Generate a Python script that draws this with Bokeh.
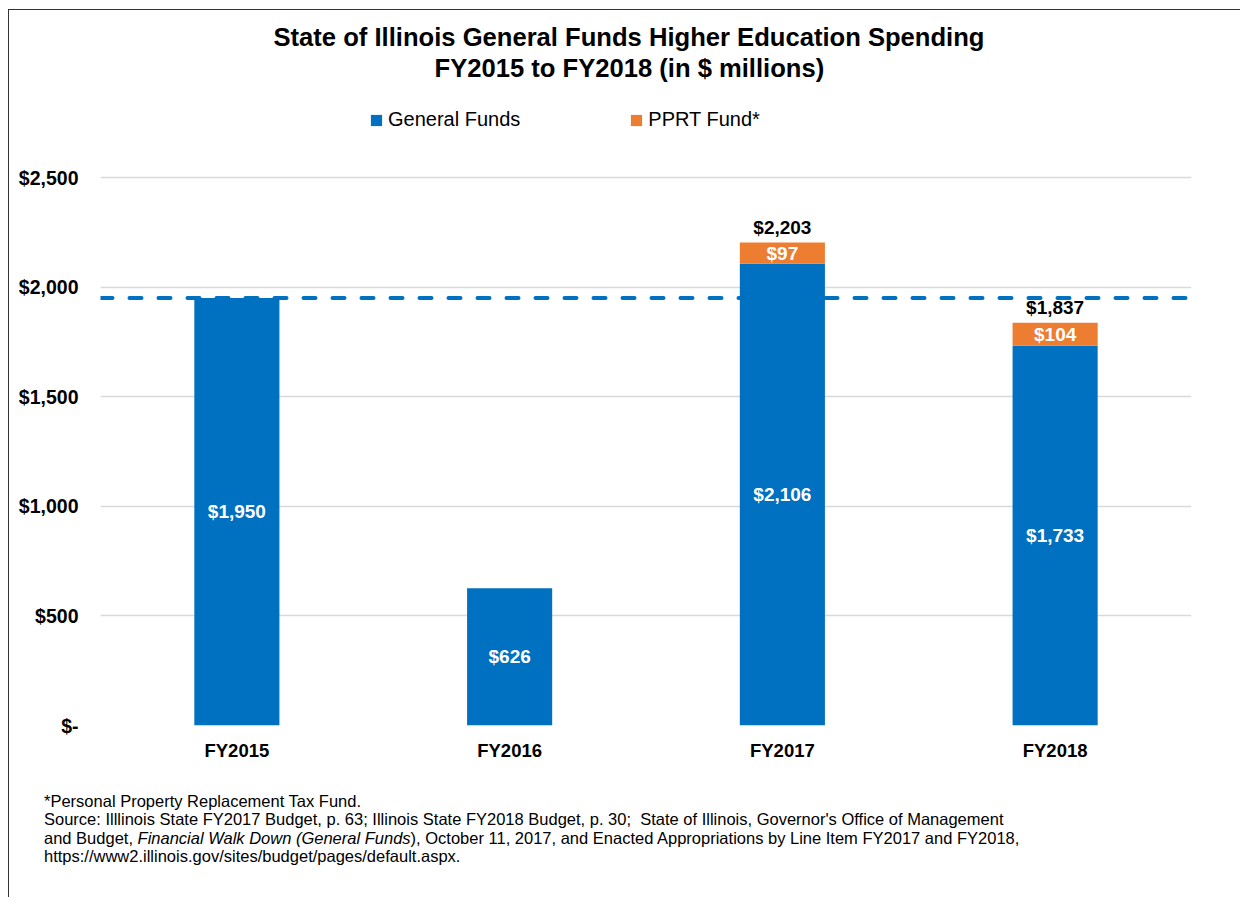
from bokeh.plotting import figure
from bokeh.models import (ColumnDataSource, FactorRange, Range1d, Span, Legend,
                          LegendItem, Title, NumeralTickFormatter, FixedTicker, Div)
from bokeh.layouts import column
from bokeh.embed import file_html
from bokeh.resources import INLINE
from bokeh.core.properties import value

# ---------------- data ----------------
years = ["FY2015", "FY2016", "FY2017", "FY2018"]
general_funds = [1950, 626, 2106, 1733]
pprt_fund = [0, 0, 97, 104]
y_ticks = [0, 500, 1000, 1500, 2000, 2500]
series_names = ["General Funds", "PPRT Fund*"]
title_line1 = "State of Illinois General Funds Higher Education Spending"
title_line2 = "FY2015 to FY2018 (in $ millions)"

BLUE = "#0070C0"
ORANGE = "#ED7D31"
FONT = "Liberation Sans"

# layout constants (pixels)
AXIS_PX = 548          # height of the 0..2500 tick span
FRAME_PX = 643         # frame height (extra room above for the legend)

def money(v):
    return "${:,.0f}".format(v)

totals = [g + q for g, q in zip(general_funds, pprt_fund)]

src = ColumnDataSource(data=dict(
    year=years,
    general=general_funds,
    pprt=pprt_fund,
))

gen_lbl = ColumnDataSource(data=dict(
    x=years,
    y=[g / 2 for g in general_funds],
    t=[money(g) for g in general_funds],
))
pp_idx = [i for i, q in enumerate(pprt_fund) if q > 0]
pp_lbl = ColumnDataSource(data=dict(
    x=[years[i] for i in pp_idx],
    y=[general_funds[i] + pprt_fund[i] / 2 for i in pp_idx],
    t=[money(pprt_fund[i]) for i in pp_idx],
))
tot_lbl = ColumnDataSource(data=dict(
    x=[years[i] for i in pp_idx],
    y=[totals[i] for i in pp_idx],
    t=[money(totals[i]) for i in pp_idx],
))

y_end = y_ticks[-1] * FRAME_PX / AXIS_PX

p = figure(
    x_range=FactorRange(*years, range_padding=0),
    y_range=Range1d(y_ticks[0], y_end),
    width=1231, height=782,
    output_backend="svg", toolbar_location=None, title=None,
    min_border_left=91, min_border_right=49,
    min_border_top=72, min_border_bottom=67,
)
p.outline_line_color = None
p.background_fill_color = "white"
p.border_fill_color = "white"

rs = p.vbar_stack(["general", "pprt"], x="year", width=0.312, source=src,
                  color=[BLUE, ORANGE], line_color=None)

p.add_layout(Span(location=general_funds[0], dimension="width",
                  line_color=BLUE, line_width=4, line_dash="12 17",
                  line_cap="round"))

common = dict(text_align="center", text_font=value(FONT),
              text_font_style="bold", text_font_size="19px")
p.text(x="x", y="y", text="t", source=gen_lbl, text_baseline="middle",
       text_color="white", **common)
p.text(x="x", y="y", text="t", source=pp_lbl, text_baseline="middle",
       text_color="white", **common)
p.text(x="x", y="y", text="t", source=tot_lbl, text_baseline="bottom",
       y_offset=-5, text_color="black", **common)

p.xgrid.grid_line_color = None
p.ygrid.grid_line_color = "#D9D9D9"
p.ygrid.grid_line_width = 1.5
p.yaxis.ticker = FixedTicker(ticks=y_ticks)
p.yaxis.formatter = NumeralTickFormatter(format="$0,0")
p.yaxis.major_label_overrides = {0: "$-"}
for ax in (p.xaxis[0], p.yaxis[0]):
    ax.axis_line_color = None
    ax.major_tick_line_color = None
    ax.minor_tick_line_color = None
    ax.major_label_text_font = FONT
    ax.major_label_text_font_style = "bold"
    ax.major_label_text_color = "black"
p.yaxis.major_label_text_font_size = "19.5px"
p.yaxis.major_label_standoff = 16
p.xaxis.major_label_text_font_size = "18.5px"
p.xaxis.major_label_standoff = 8

legend = Legend(
    items=[LegendItem(label=series_names[0], renderers=[rs[0]]),
           LegendItem(label=series_names[1], renderers=[rs[1]])],
    orientation="horizontal", location=(269, 594), margin=0, padding=0,
    spacing=109, glyph_width=14, glyph_height=14, label_standoff=5,
    label_text_font=FONT, label_text_font_size="20px",
    label_text_color="black", border_line_color=None,
    background_fill_alpha=0,
)
p.add_layout(legend, "center")

t2 = Title(text=title_line2, align="left", offset=334, standoff=2,
           text_font=FONT, text_font_style="bold", text_font_size="25.6px",
           text_color="black")
t1 = Title(text=title_line1, align="left", offset=173, standoff=0,
           text_font=FONT, text_font_style="bold", text_font_size="25.6px",
           text_color="black")
p.add_layout(t2, "above")
p.add_layout(t1, "above")

foot_html = (
    '<div style="margin-left:35px; font-family:\'Liberation Sans\'; '
    'font-size:16.5px; line-height:18.4px; color:black; white-space:nowrap;">'
    '*Personal Property Replacement Tax Fund.<br>'
    'Source: Illlinois State FY2017 Budget, p. 63; Illinois State FY2018 Budget, p. 30;&nbsp; '
    'State of Illinois, Governor\'s Office of Management<br>'
    'and Budget, <i>Financial Walk Down (General Funds</i>), October 11, 2017, and Enacted '
    'Appropriations by Line Item FY2017 and FY2018,<br>'
    'https://www2.illinois.gov/sites/budget/pages/default.aspx.'
    '</div>'
)
foot = Div(text=foot_html, width=1231, height=105, margin=0)

layout = column(p, foot, spacing=0, margin=(9, 0, 0, 8),
                styles={"border-left": "1px solid #333333",
                        "border-top": "1px solid #333333"})

open("out.html", "w").write(file_html(layout, INLINE))
